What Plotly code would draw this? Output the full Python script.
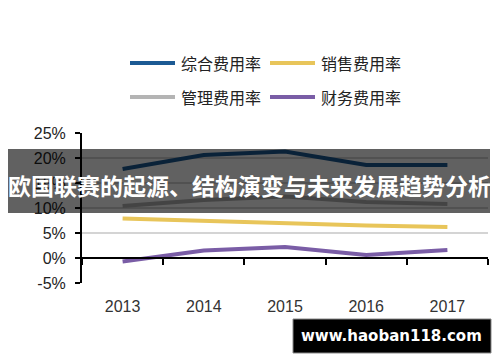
import plotly.graph_objects as go

years = ["2013", "2014", "2015", "2016", "2017"]
zonghe = [17.8, 20.6, 21.3, 18.6, 18.6]
xiaoshou = [7.9, 7.4, 6.9, 6.5, 6.2]
guanli = [10.4, 11.6, 12.3, 11.2, 10.8]
caiwu = [-0.7, 1.5, 2.2, 0.6, 1.6]

names = ["综合费用率", "销售费用率", "管理费用率", "财务费用率"]
colors = ["#1c5a94", "#e8c55a", "#b4b4b4", "#7a5da6"]
series = [zonghe, xiaoshou, guanli, caiwu]
y_ticks = [-5, 0, 5, 10, 15, 20, 25]
y_ticktext = [f"{v}%" for v in y_ticks]

W, H = 500, 362
L, R, T, B = 82, 12, 133, 79
pw, ph = W - L - R, H - T - B

def px(x):
    return (x - L) / pw

def py(y):
    return (H - B - y) / ph

fig = go.Figure()
for name, vals, c in zip(names, series, colors):
    fig.add_trace(go.Scatter(x=years, y=vals, mode="lines", name=name,
                             line=dict(color=c, width=4), showlegend=False))
# invisible trace for the secondary x axis (ticks at y=0)
fig.add_trace(go.Scatter(x=years, y=[None]*5, xaxis="x2", showlegend=False, hoverinfo="skip"))

fig.update_layout(
    width=W, height=H,
    margin=dict(l=L, r=R, t=T, b=B, autoexpand=False),
    paper_bgcolor="white", plot_bgcolor="white",
    font=dict(family="Liberation Sans, Arial", size=16, color="#222"),
    xaxis=dict(type="category", range=[-0.5, 4.5], showgrid=False, showline=False,
               ticks="", tickfont=dict(size=16, color="#333"), ticklabelstandoff=12,
               automargin=False),
    xaxis2=dict(type="category", range=[-0.5, 4.5], overlaying="x", anchor="free",
                position=py(258), showline=True, linecolor="black", linewidth=2,
                ticks="outside", tickson="boundaries", ticklen=6, tickwidth=2,
                tickcolor="black", showticklabels=False, showgrid=False,
                automargin=False),
    yaxis=dict(range=[-5, 25], tickvals=y_ticks, ticktext=y_ticktext, showgrid=True,
               gridcolor="#d4d4d4", gridwidth=1.5, zeroline=False,
               showline=True, linecolor="black", linewidth=2,
               ticks="outside", ticklen=5, tickwidth=2, tickcolor="black",
               tickfont=dict(size=16, color="#222"), automargin=False,
               ticklabelstandoff=6),
)

# legend drawn manually (2 x 2)
leg = [(130, 63), (270, 63), (130, 97), (270, 97)]
for (lx, ly), name, c in zip(leg, names, colors):
    fig.add_shape(type="line", xref="paper", yref="paper",
                  x0=px(lx), x1=px(lx + 45), y0=py(ly), y1=py(ly),
                  line=dict(color=c, width=4))
    fig.add_annotation(xref="paper", yref="paper", x=px(lx + 49), y=py(ly),
                       text=name, showarrow=False, xanchor="left", yanchor="middle",
                       font=dict(family="Noto Sans CJK SC", size=16, color="#222"))

# dark banner overlay
fig.add_shape(type="rect", xref="paper", yref="paper", layer="above",
              x0=px(8), x1=px(490), y0=py(213), y1=py(149),
              fillcolor="rgba(0,0,0,0.62)", line=dict(width=0))
fig.add_annotation(xref="paper", yref="paper", x=px(249), y=py(185),
                   text="<b>欧国联赛的起源、结构演变与未来发展趋势分析</b>", showarrow=False,
                   xanchor="center", yanchor="middle",
                   font=dict(family="Noto Sans CJK SC", size=23, color="white"))

# watermark box
fig.add_shape(type="rect", xref="paper", yref="paper", layer="above",
              x0=px(293), x1=px(491), y0=py(353), y1=py(319),
              fillcolor="black", line=dict(color="#888", width=1))
fig.add_annotation(xref="paper", yref="paper", x=px(391), y=py(336),
                   text="<b>www.haoban118.com</b>", showarrow=False,
                   xanchor="center", yanchor="middle",
                   font=dict(family="DejaVu Sans", size=15, color="white"))

fig.write_html("out.html", config={"displayModeBar": False},
               post_script="document.body.style.margin='0';")
